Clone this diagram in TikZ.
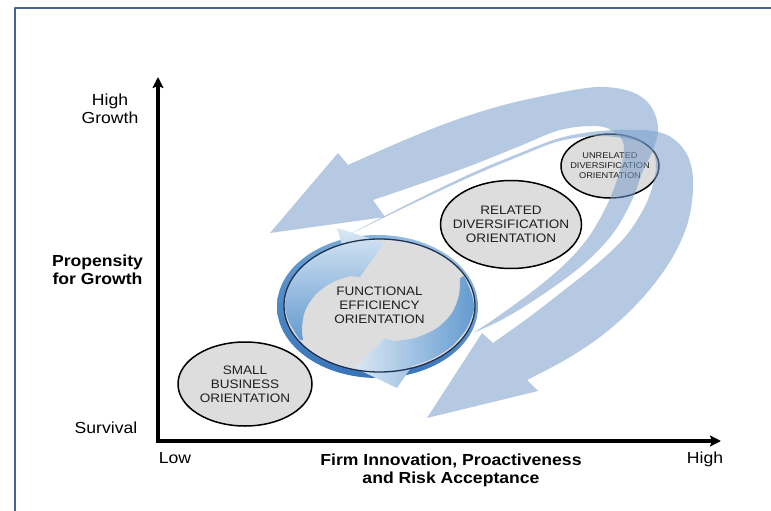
\documentclass[tikz,border=0pt]{standalone}
\usepackage{fontspec}
\setmainfont[FakeStretch=1.1]{Liberation Sans}
\usetikzlibrary{shapes.geometric,arrows.meta,shadings}
\definecolor{frameblue}{RGB}{70,100,150}
\definecolor{bandblue}{RGB}{120,157,204}
\definecolor{ellgray}{RGB}{221,221,221}
\definecolor{txt}{RGB}{30,30,30}
\definecolor{ringdark}{RGB}{55,115,185}
\definecolor{ringmid}{RGB}{100,155,208}
\definecolor{ringlight}{RGB}{180,208,234}
\definecolor{navy}{RGB}{30,50,80}
\begin{document}
\begin{tikzpicture}[x=1pt,y=-1pt, line join=round,
  orient/.style={ellipse, draw=black, line width=1.5pt, fill=ellgray, inner xsep=-16pt, inner ysep=0pt, text=txt, align=center, font=\fontsize{12.3}{14}\selectfont},
  axislabel/.style={align=center, font=\fontsize{16}{18}\selectfont, inner sep=0pt},
  boldlabel/.style={axislabel, font=\fontsize{16}{18}\selectfont\bfseries},
  band/.style={fill=bandblue, fill opacity=0.55},
  axisline/.style={line width=3.2pt, {Stealth[length=11pt,width=11pt,inset=2pt]}-{Stealth[length=11pt,width=11pt,inset=2pt]}, line join=miter}]
\useasboundingbox (0,0) rectangle (771,511);
% frame
\draw[frameblue, line width=1.5pt] (15,511) -- (15,8) -- (771,8);

% unrelated ellipse (under the bands)
\node[orient, minimum width=98pt, minimum height=64pt, font=\fontsize{8.4}{10}\selectfont] (unrel) at (610,166) {UNRELATED\\DIVERSIFICATION\\ORIENTATION};

% band A (upper spiral arrow, head at left)
\fill[band] (270,233) -- (338,153) -- plot[smooth, tension=0.6] coordinates {(348,165) (400,142) (450,122) (500,106) (543,96) (580,89) (605,87) (632,92) (650,105) (658,127) (653,150) (642,173) (633,198) (614,232) (585,263) (545,293) (505,318) (473,333)} -- plot[smooth, tension=0.6] coordinates {(473,333) (500,315) (538,287) (568,261) (590,235) (607,205) (617,180) (623,158) (623,142) (613,131) (595,126) (560,130) (520,146) (470,166) (420,184) (373,200)} -- (385,217) -- cycle;

% band B (right spiral arrow, head at bottom)
\fill[band] (427,418) -- (482,333) -- plot[smooth, tension=0.6] coordinates {(493,343) (528,318) (563,291) (598,263) (625,237) (643,210) (652,188) (656,166) (652,150) (638,141) (600,136) (560,141) (520,156) (470,177) (410,205) (346,236)} -- plot[smooth, tension=0.6] coordinates {(346,236) (410,203) (470,174) (520,153) (560,138) (600,131) (640,130) (665,134) (682,147) (691,165) (693,190) (688,222) (675,253) (655,283) (630,311) (600,337) (565,360) (527,380)} -- (538,391) -- cycle;

% other ellipses
\node[orient, minimum width=141pt, minimum height=88pt] (rel) at (511,224.5) {RELATED\\DIVERSIFICATION\\ORIENTATION};
\node[orient, minimum width=134pt, minimum height=84pt] (small) at (245,384) {SMALL\\BUSINESS\\ORIENTATION};

% functional efficiency: ring, fill, circular arrows
\shade[even odd rule, upper left=ringmid, upper right=ringlight, lower left=ringdark, lower right=ringdark] (377.5,306.5) ellipse[x radius=100.5pt, y radius=71.5pt] (379.5,305.5) ellipse[x radius=95pt, y radius=66pt];
\fill[ellgray] (379.5,305.5) ellipse[x radius=95pt, y radius=66pt];
\shade[top color=ringlight!50!white, bottom color=ringmid] plot[smooth] coordinates {(300,340) (289,322) (285,305) (290,282) (306,263) (327,251) (342,245)} -- (337,228) -- (384,243) -- (360,277) -- plot[smooth] coordinates {(350,276) (333,282) (316,294) (305,311) (302,328) (303,340)} -- cycle;
\shade[left color=ringlight!50!white, right color=ringmid] plot[smooth] coordinates {(464,276) (471,292) (474,308) (467,328) (452,346) (432,359) (412,366)} -- (397,388) -- (355,368) -- (385,338) -- plot[smooth] coordinates {(393,341) (415,338) (437,328) (452,313) (459,295) (460,278)} -- cycle;
\node[orient, draw=navy, line width=1.3pt, fill=none, minimum width=191pt, minimum height=133pt] (func) at (379.5,305.5) {FUNCTIONAL\\EFFICIENCY\\ORIENTATION};

% axes
\coordinate (origin) at (158,441);
\coordinate (ytip) at (158,77);
\coordinate (xtip) at (721,441);
\draw[axisline] (ytip) -- (origin) -- (xtip);

% labels
\node[axislabel] (hg) at (110,108.5) {High\\Growth};
\node[boldlabel] (pg) at (97.5,270) {Propensity\\for Growth};
\node[axislabel, anchor=base] (surv) at (106,433) {Survival};
\node[axislabel, anchor=base] (low) at (175,463) {Low};
\node[axislabel, anchor=base] (high) at (705,463) {High};
\node[boldlabel] (xl) at (451,470) {Firm Innovation, Proactiveness\\and Risk Acceptance};
\end{tikzpicture}
\end{document}
